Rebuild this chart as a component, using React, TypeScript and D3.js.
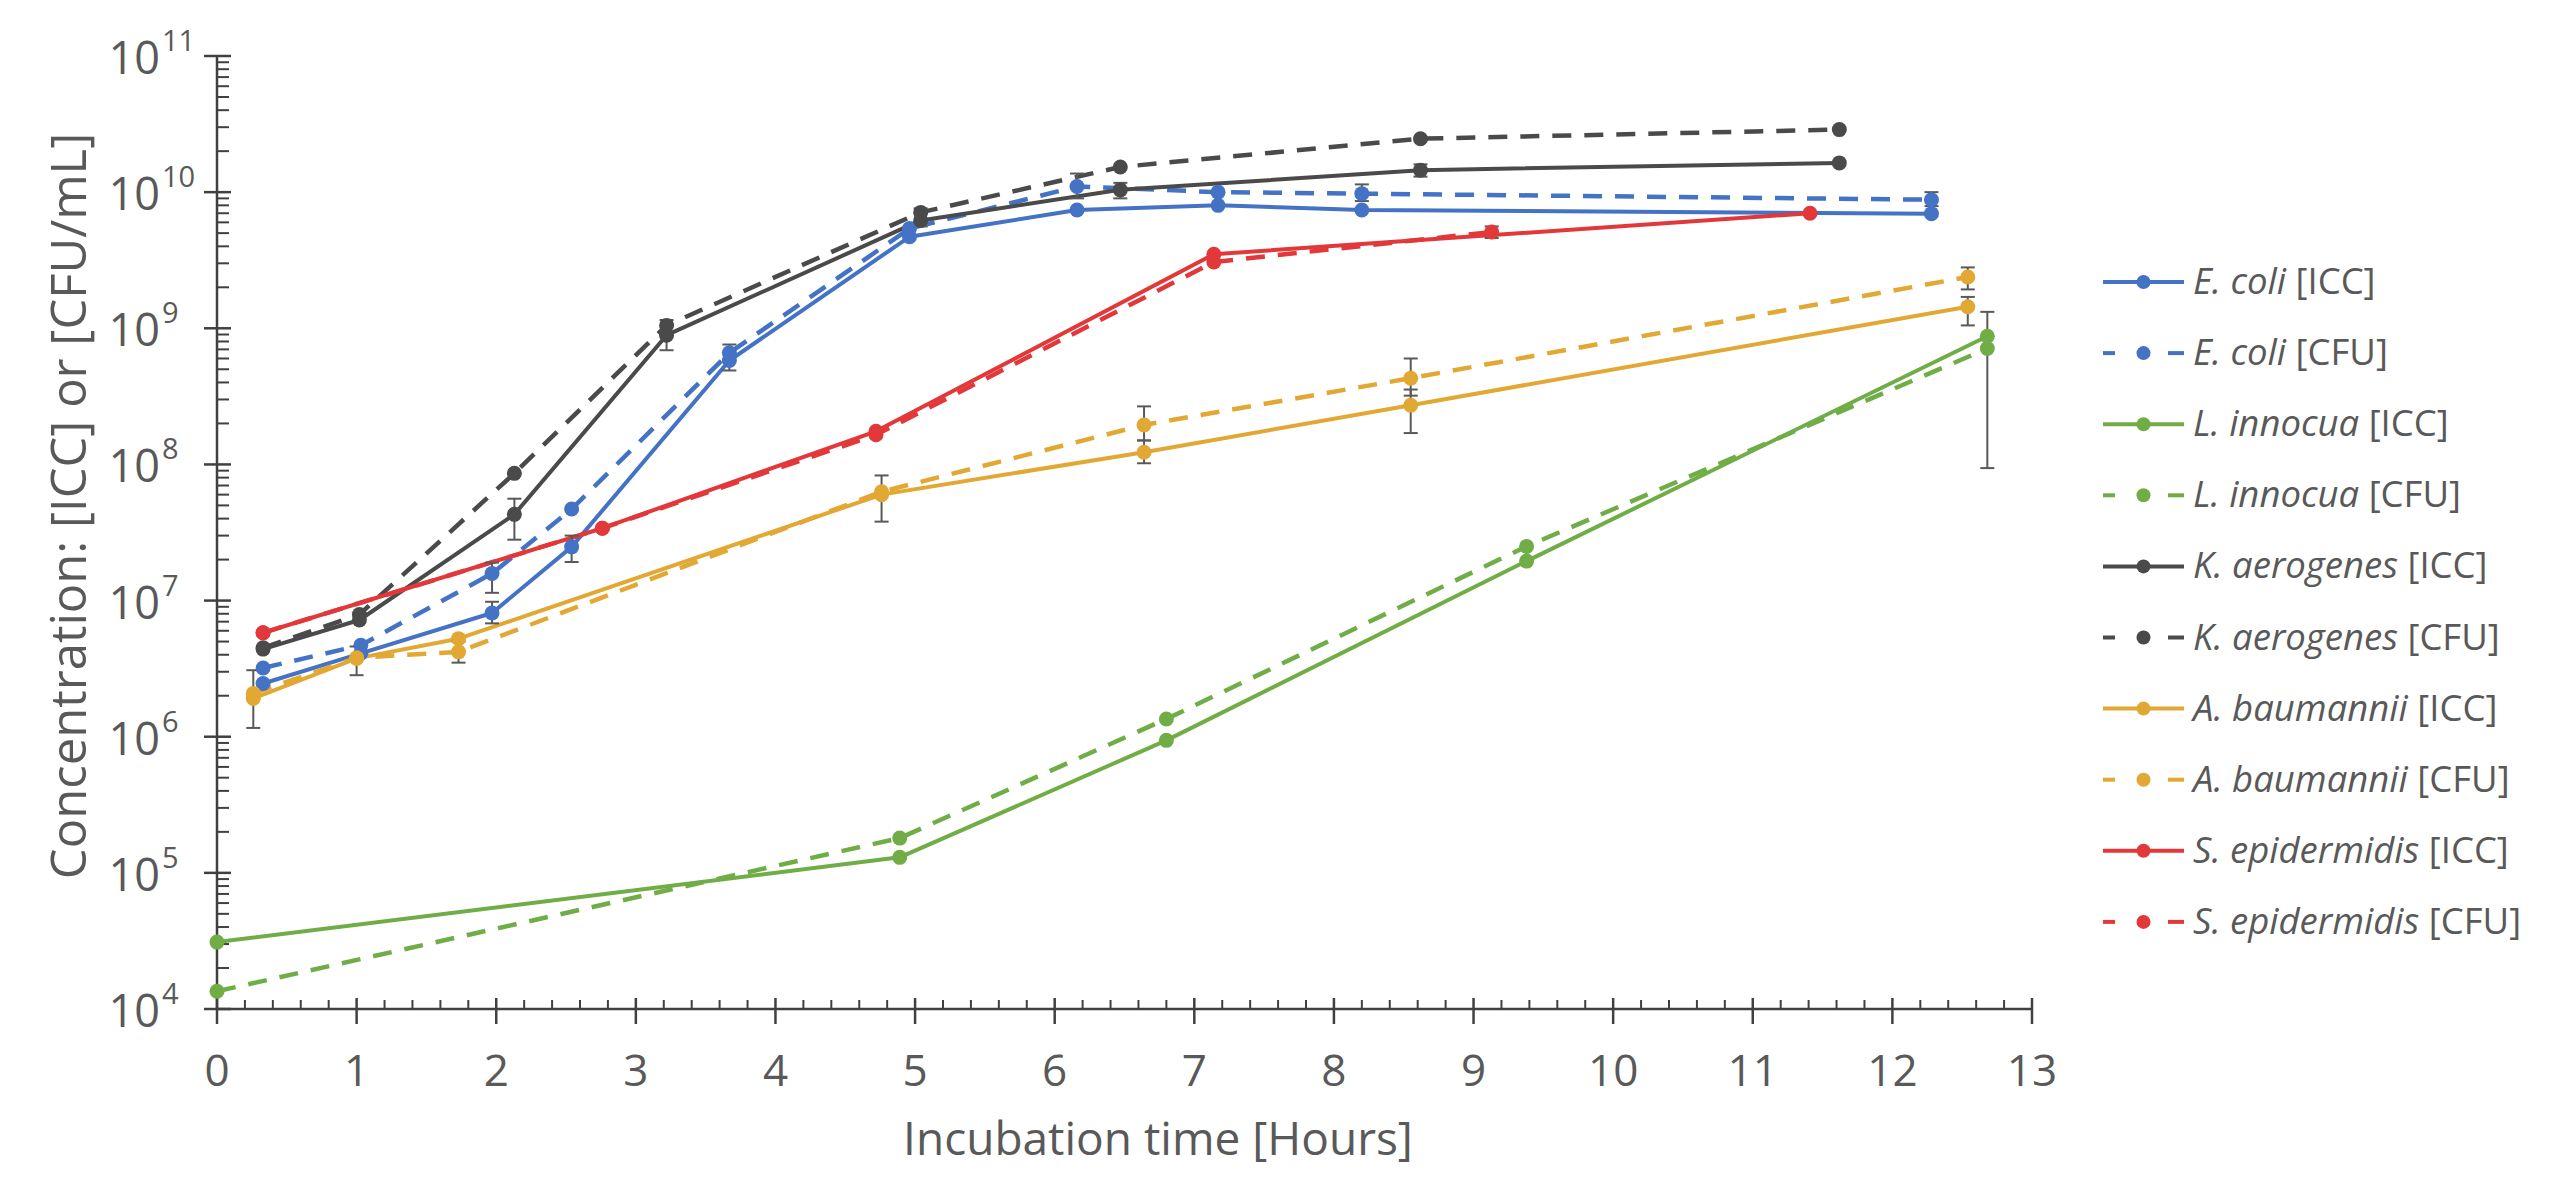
import React from "react";
import * as d3 from "d3";

// ---------- data ----------
const ecoliT = [0.33, 1.03, 1.97, 2.54, 3.67, 4.96, 6.16, 7.17, 8.2, 12.28];
const ecoliICC = [2.46e6, 4.1e6, 8.1e6, 2.48e7, 5.8e8, 4.7e9, 7.4e9, 8.0e9, 7.4e9, 6.95e9];
const ecoliCFU = [3.2e6, 4.7e6, 1.58e7, 4.7e7, 6.6e8, 5.4e9, 1.1e10, 1.0e10, 9.75e9, 8.8e9];

const linnT = [0, 4.89, 6.8, 9.38, 12.68];
const linnICC = [3.1e4, 1.3e5, 9.4e5, 1.95e7, 8.75e8];
const linnCFU = [1.35e4, 1.8e5, 1.35e6, 2.5e7, 7.1e8];

const kaerT = [0.33, 1.02, 2.13, 3.22, 5.04, 6.47, 8.62, 11.62];
const kaerICC = [4.4e6, 7.2e6, 4.3e7, 8.9e8, 6.2e9, 1.04e10, 1.45e10, 1.64e10];
const kaerCFU = [4.5e6, 7.9e6, 8.6e7, 1.05e9, 7.1e9, 1.53e10, 2.47e10, 2.88e10];

const abauT = [0.26, 1.0, 1.73, 4.76, 6.64, 8.55, 12.54];
const abauICC = [1.91e6, 3.76e6, 5.25e6, 6.0e7, 1.23e8, 2.72e8, 1.44e9];
const abauCFU = [2.08e6, 3.8e6, 4.2e6, 6.3e7, 1.95e8, 4.3e8, 2.38e9];

const sepiICCT = [0.33, 2.76, 4.72, 7.14, 11.41];
const sepiICC = [5.8e6, 3.4e7, 1.75e8, 3.5e9, 7.0e9];
const sepiCFUT = [0.33, 2.76, 4.72, 7.14, 9.13];
const sepiCFU = [5.8e6, 3.4e7, 1.65e8, 3.07e9, 5.1e9];

// error bars (time, low, high)
const errT = [0.26, 1.0, 1.73, 1.97, 1.97, 2.13, 2.54, 3.22, 3.67, 4.76, 5.04, 6.16, 6.47, 6.64, 6.64, 8.2, 8.55, 8.55, 8.62, 9.13, 12.28, 12.54, 12.54, 12.68];
const errLo = [1.16e6, 2.83e6, 3.5e6, 1.14e7, 6.8e6, 2.8e7, 1.92e7, 6.9e8, 4.9e8, 3.8e7, 5.6e9, 9.0e9, 9.0e9, 1.5e8, 1.02e8, 8.6e9, 3.2e8, 1.7e8, 1.3e10, 4.6e9, 7.9e9, 1.93e9, 1.05e9, 9.4e7];
const errHi = [3.08e6, 4.6e6, 5.0e6, 1.9e7, 9.8e6, 5.6e7, 3.0e7, 1.15e9, 7.6e8, 8.3e7, 7.6e9, 1.37e10, 1.17e10, 2.67e8, 1.5e8, 1.14e10, 6.0e8, 3.55e8, 1.6e10, 5.6e9, 1.0e10, 2.8e9, 1.7e9, 1.32e9];

const speciesNames = ["E. coli", "E. coli", "L. innocua", "L. innocua", "K. aerogenes", "K. aerogenes", "A. baumannii", "A. baumannii", "S. epidermidis", "S. epidermidis"];
const methodNames = ["[ICC]", "[CFU]", "[ICC]", "[CFU]", "[ICC]", "[CFU]", "[ICC]", "[CFU]", "[ICC]", "[CFU]"];
const seriesColors = ["#4472C4", "#4472C4", "#70AD47", "#70AD47", "#4A4A4A", "#4A4A4A", "#E2A834", "#E2A834", "#E2383A", "#E2383A"];
const seriesDashed = [false, true, false, true, false, true, false, true, false, true];
const seriesT = [ecoliT, ecoliT, linnT, linnT, kaerT, kaerT, abauT, abauT, sepiICCT, sepiCFUT];
const seriesV = [ecoliICC, ecoliCFU, linnICC, linnCFU, kaerICC, kaerCFU, abauICC, abauCFU, sepiICC, sepiCFU];

const xTicks = [0, 1, 2, 3, 4, 5, 6, 7, 8, 9, 10, 11, 12, 13];
const yExponents = [4, 5, 6, 7, 8, 9, 10, 11];

const FONT = "'Open Sans', 'DejaVu Sans', sans-serif";
const TEXT = "#595959";
const AXIS = "#404040";

export default function App() {
  const x = d3.scaleLinear().domain([0, 13]).range([217, 2032]);
  const y = d3.scaleLog().domain([1e4, 1e11]).range([1009, 56]);

  const line = d3
    .line<[number, number]>()
    .x((d) => x(d[0]))
    .y((d) => y(d[1]));

  const minorX: number[] = [];
  for (let i = 0; i < 13; i++) for (let k = 1; k < 5; k++) minorX.push(i + k * 0.2);
  const minorY: number[] = [];
  for (let e = 4; e < 11; e++) for (let k = 2; k < 10; k++) minorY.push(k * Math.pow(10, e));

  const x0 = x(0);
  const yb = y(1e4);

  const legendX0 = 2103;
  const legendX1 = 2184;
  const legendY0 = 282;
  const legendStep = 71.1;

  return (
    <svg
      width={2560}
      height={1200}
      style={{ position: "absolute", left: 0, top: 0, background: "#fff" }}
      fontFamily={FONT}
    >
      <rect x={0} y={0} width={2560} height={1200} fill="#fff" />

      {/* axes */}
      <g stroke={AXIS} strokeWidth={2.5}>
        <line x1={x0} x2={x0} y1={y(1e11)} y2={yb} />
        <line x1={x0} x2={x(13)} y1={yb} y2={yb} />
        {yExponents.map((e) => (
          <line key={"ym" + e} x1={x0 - 13} x2={x0 + 14} y1={y(Math.pow(10, e))} y2={y(Math.pow(10, e))} />
        ))}
        {minorY.map((v, i) => (
          <line key={"yn" + i} x1={x0} x2={x0 + 12} y1={y(v)} y2={y(v)} strokeWidth={2} />
        ))}
        {xTicks.map((t) => (
          <line key={"xm" + t} x1={x(t)} x2={x(t)} y1={yb - 11} y2={yb + 15} />
        ))}
        {minorX.map((t, i) => (
          <line key={"xn" + i} x1={x(t)} x2={x(t)} y1={yb - 9} y2={yb} strokeWidth={2} />
        ))}
      </g>

      {/* y tick labels */}
      {yExponents.map((e) => {
        const ty = y(Math.pow(10, e));
        return (
          <g key={"yl" + e} fill={TEXT}>
            <text x={160} y={ty + 18} fontSize={45} textAnchor="end">
              10
            </text>
            <text x={162} y={ty - 5} fontSize={29} textAnchor="start">
              {e}
            </text>
          </g>
        );
      })}

      {/* x tick labels */}
      {xTicks.map((t) => (
        <text key={"xl" + t} x={x(t)} y={1086} fontSize={44} fill={TEXT} textAnchor="middle">
          {t}
        </text>
      ))}

      {/* axis titles */}
      <text x={1158} y={1155} fontSize={46} fill={TEXT} textAnchor="middle">
        Incubation time [Hours]
      </text>
      <text
        transform={`translate(86, 506) rotate(-90)`}
        fontSize={49}
        fill={TEXT}
        textAnchor="middle"
      >
        Concentration: [ICC] or [CFU/mL]
      </text>

      {/* series lines */}
      {seriesT.map((ts, si) => {
        const pts = ts.map((t, i) => [t, seriesV[si][i]] as [number, number]);
        return (
          <path
            key={"l" + si}
            d={line(pts) || ""}
            fill="none"
            stroke={seriesColors[si]}
            strokeWidth={seriesDashed[si] ? 4.5 : 4}
            strokeDasharray={seriesDashed[si] ? "19,13" : undefined}
            strokeLinejoin="round"
          />
        );
      })}

      {/* error bars */}
      <g stroke="#595959" strokeWidth={2}>
        {errT.map((t, i) => (
          <g key={"e" + i}>
            <line x1={x(t)} x2={x(t)} y1={y(errLo[i])} y2={y(errHi[i])} />
            <line x1={x(t) - 7} x2={x(t) + 7} y1={y(errLo[i])} y2={y(errLo[i])} />
            <line x1={x(t) - 7} x2={x(t) + 7} y1={y(errHi[i])} y2={y(errHi[i])} />
          </g>
        ))}
      </g>

      {/* markers */}
      {seriesT.map((ts, si) => (
        <g key={"m" + si} fill={seriesColors[si]}>
          {ts.map((t, i) => (
            <circle key={i} cx={x(t)} cy={y(seriesV[si][i])} r={7.5} />
          ))}
        </g>
      ))}

      {/* legend */}
      {speciesNames.map((name, i) => {
        const ly = legendY0 + i * legendStep;
        const c = seriesColors[i];
        return (
          <g key={"lg" + i}>
            {seriesDashed[i] ? (
              <g stroke={c} strokeWidth={4}>
                <line x1={legendX0} x2={legendX0 + 12} y1={ly} y2={ly} />
                <line x1={legendX1 - 16} x2={legendX1} y1={ly} y2={ly} />
              </g>
            ) : (
              <line x1={legendX0} x2={legendX1} y1={ly} y2={ly} stroke={c} strokeWidth={4} />
            )}
            <circle cx={(legendX0 + legendX1) / 2} cy={ly} r={7} fill={c} />
            <text x={2193} y={ly + 12} fontSize={36.5} fill={TEXT}>
              <tspan fontStyle="italic">{name}</tspan>
              <tspan> {methodNames[i]}</tspan>
            </text>
          </g>
        );
      })}
    </svg>
  );
}
